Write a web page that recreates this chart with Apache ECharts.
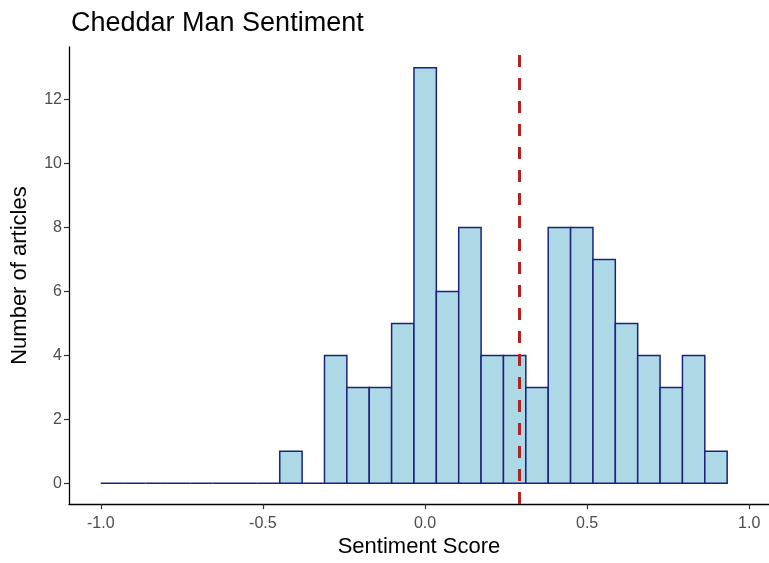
<!DOCTYPE html>
<html>
<head>
<meta charset="utf-8">
<script src="https://cdn.jsdelivr.net/npm/echarts@6/dist/echarts.min.js"></script>
<style>
  html, body { margin: 0; padding: 0; background: #ffffff; }
  #chart { width: 769px; height: 563px; }
</style>
</head>
<body>
<div id="chart"></div>
<script>
// ---- data ----
var titleText = 'Cheddar Man Sentiment';
var xAxisTitle = 'Sentiment Score';
var yAxisTitle = 'Number of articles';
var binEdges = [-1.000, -0.931, -0.862, -0.793, -0.724, -0.655, -0.586, -0.517,
                -0.448, -0.379, -0.310, -0.241, -0.172, -0.103, -0.034, 0.035,
                0.104, 0.173, 0.242, 0.311, 0.380, 0.449, 0.518, 0.587,
                0.656, 0.725, 0.794, 0.863, 0.932];
var binCounts = [0, 0, 0, 0, 0, 0, 0, 0,
                 1, 0, 4, 3, 3, 5, 13, 6,
                 8, 4, 4, 3, 8, 8, 7, 5,
                 4, 3, 4, 1];
var meanScore = 0.2875;
var xTicks = [-1.0, -0.5, 0.0, 0.5, 1.0];
var yTicks = [0, 2, 4, 6, 8, 10, 12];

var histData = binCounts.map(function (c, i) {
  return [binEdges[i], binEdges[i + 1], c];
});

var FONT = "'Liberation Sans', Arial, sans-serif";
var chart = echarts.init(document.getElementById('chart'), null, { renderer: 'canvas' });

chart.setOption({
  animation: false,
  backgroundColor: '#ffffff',
  title: {
    text: titleText,
    left: 71,
    top: 10,
    padding: 0,
    textStyle: { fontFamily: FONT, fontSize: 27, fontWeight: 'normal', color: '#000000' }
  },
  grid: { left: 69, right: 0, top: 47, bottom: 54, containLabel: false },
  xAxis: {
    type: 'value',
    min: -1.098,
    max: 1.061,
    name: xAxisTitle,
    nameLocation: 'middle',
    nameGap: 31,
    nameTextStyle: { fontFamily: FONT, fontSize: 22, color: '#000000' },
    splitLine: { show: false },
    axisLine: { show: true, onZero: false, lineStyle: { color: '#000000', width: 1.3 } },
    axisTick: { show: true, length: 5, customValues: xTicks, lineStyle: { color: '#333333', width: 1.2 } },
    axisLabel: {
      show: true, margin: 11, customValues: xTicks,
      fontFamily: FONT, fontSize: 16, color: '#4d4d4d',
      formatter: function (v) { return v.toFixed(1); }
    }
  },
  yAxis: {
    type: 'value',
    min: -0.65,
    max: 13.65,
    name: yAxisTitle,
    nameLocation: 'middle',
    nameRotate: 90,
    nameGap: 38,
    nameTextStyle: { fontFamily: FONT, fontSize: 22, color: '#000000' },
    splitLine: { show: false },
    axisLine: { show: true, onZero: false, lineStyle: { color: '#000000', width: 1.3 } },
    axisTick: { show: true, length: 5, customValues: yTicks, lineStyle: { color: '#333333', width: 1.2 } },
    axisLabel: {
      show: true, margin: 7, customValues: yTicks,
      fontFamily: FONT, fontSize: 16, color: '#4d4d4d'
    }
  },
  series: [
    {
      type: 'custom',
      data: histData,
      encode: { x: [0, 1], y: 2 },
      renderItem: function (params, api) {
        var p0 = api.coord([api.value(0), api.value(2)]);
        var p1 = api.coord([api.value(1), 0]);
        return {
          type: 'rect',
          shape: { x: p0[0], y: p0[1], width: p1[0] - p0[0], height: p1[1] - p0[1] },
          style: { fill: '#add8e6', stroke: '#1a237e', lineWidth: 1.5 }
        };
      },
      markLine: {
        silent: true,
        symbol: ['none', 'none'],
        label: { show: false },
        lineStyle: { color: '#b22222', width: 3, type: [12, 11] },
        data: [{ xAxis: meanScore }]
      },
      z: 2
    }
  ]
});
</script>
</body>
</html>
